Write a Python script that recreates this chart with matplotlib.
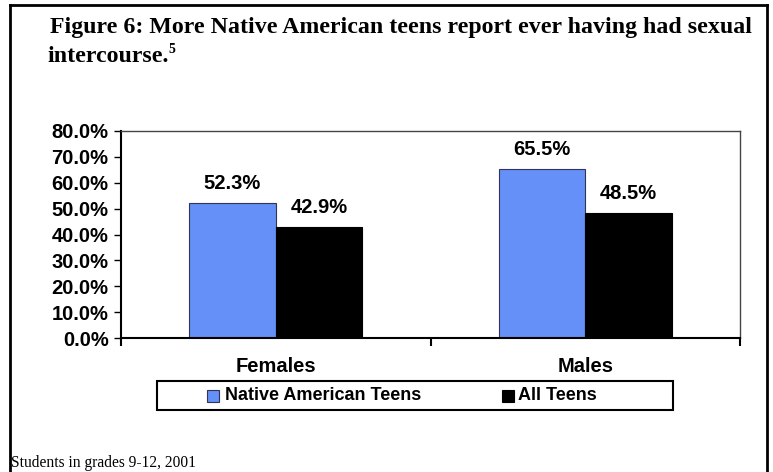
import matplotlib
matplotlib.use("Agg")
import matplotlib.pyplot as plt
from matplotlib.lines import Line2D
from matplotlib.patches import Rectangle

groups = ["Females", "Males"]
series = ["Native American Teens", "All Teens"]
native = [52.3, 65.5]
all_teens = [42.9, 48.5]
y_ticks = [0, 10, 20, 30, 40, 50, 60, 70, 80]

BLUE = "#6490F8"
W, H = 773, 472

fig = plt.figure(figsize=(W / 100, H / 100), dpi=100)
fig.patch.set_facecolor("white")


def fx(px):
    return px / W


def fy(py):
    return 1 - py / H


# outer frame
fig.add_artist(Line2D([fx(9.5), fx(9.5)], [fy(5), fy(472)], color="black", lw=2))
fig.add_artist(Line2D([fx(9.5), fx(767)], [fy(5), fy(5)], color="black", lw=2))
fig.add_artist(Line2D([fx(767), fx(767)], [fy(5), fy(472)], color="black", lw=2))

# title
fig.text(fx(50), fy(33), "Figure 6: More Native American teens report ever having had sexual",
         family="Liberation Serif", weight="bold", fontsize=17.2, va="baseline")
t2 = fig.text(fx(47), fy(62), "intercourse.", family="Liberation Serif", weight="bold",
              fontsize=17.2, va="baseline")
fig.canvas.draw()
bb = t2.get_window_extent()
fig.text((bb.x1 + 0.5) / W, fy(53), "5", family="Liberation Serif", weight="bold",
         fontsize=10, va="baseline")

ax = fig.add_axes([fx(121), fy(338), fx(740) - fx(121), fy(131) - fy(338)])
x = [0, 1]
bw = 0.28
b1 = ax.bar([i - bw / 2 for i in x], native, bw, color=BLUE, edgecolor="#333355", lw=0.8)
b2 = ax.bar([i + bw / 2 for i in x], all_teens, bw, color="black", edgecolor="black", lw=0.8)

for bars, vals in ((b1, native), (b2, all_teens)):
    for r, v in zip(bars, vals):
        ax.annotate(f"{v:.1f}%", (r.get_x() + r.get_width() / 2, v), xytext=(0, 7),
                    textcoords="offset points", ha="center", va="bottom",
                    family="Liberation Sans", weight="bold", fontsize=14.5)

ax.set_xlim(-0.5, 1.5)
ax.set_ylim(0, 80)
ax.set_yticks(y_ticks)
ax.set_yticklabels([f"{t:.1f}%" for t in y_ticks], family="Liberation Sans",
                   weight="bold", fontsize=14.5)
ax.set_xticks([-0.5, 0.5, 1.5])
ax.set_xticklabels([])
ax.tick_params(axis="y", direction="out", length=5, width=1, pad=4)
ax.tick_params(axis="x", direction="out", length=6, width=1.5)
for i, g in enumerate(groups):
    ax.text(i, -11.2, g, ha="center", va="center", family="Liberation Sans",
            weight="bold", fontsize=14.5)

ax.spines["left"].set_linewidth(1.5)
ax.spines["bottom"].set_linewidth(1.5)
for s in ("top", "right"):
    ax.spines[s].set_linewidth(1)
    ax.spines[s].set_color("#444444")

# legend box
fig.add_artist(Rectangle((fx(157), fy(410)), fx(673) - fx(157), fy(381) - fy(410),
                         transform=fig.transFigure, fill=False, edgecolor="black", lw=1.5))
sq = 12
fig.add_artist(Rectangle((fx(207), fy(402)), sq / W, sq / H, transform=fig.transFigure,
                         facecolor=BLUE, edgecolor="#333355", lw=0.8))
fig.text(fx(225), fy(395.5), series[0], family="Liberation Sans", weight="bold",
         fontsize=13, va="center")
fig.add_artist(Rectangle((fx(502), fy(402)), sq / W, sq / H, transform=fig.transFigure,
                         facecolor="black", edgecolor="black", lw=0.8))
fig.text(fx(518), fy(395.5), series[1], family="Liberation Sans", weight="bold",
         fontsize=13, va="center")

fig.text(fx(11), fy(467), "Students in grades 9-12, 2001", family="Liberation Serif",
         fontsize=11.2, va="baseline")

fig.savefig("out.png", dpi=100)
